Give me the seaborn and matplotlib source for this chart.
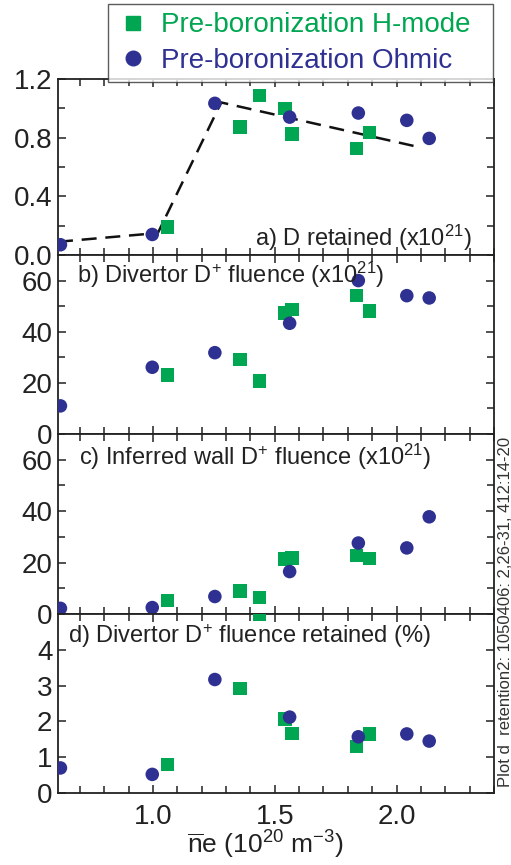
import matplotlib
matplotlib.use("Agg")
import matplotlib.pyplot as plt
from matplotlib.lines import Line2D
from matplotlib.ticker import MultipleLocator, FixedLocator
import seaborn as sns
import pandas as pd

# ---------------- data ----------------
hmode_x = [1.06, 1.357, 1.437, 1.541, 1.57, 1.836, 1.889]
hmode_a = [0.19, 0.873, 1.086, 1.00, 0.825, 0.727, 0.836]
hmode_b = [23.1, 29.1, 20.8, 47.3, 48.6, 54.2, 48.2]
hmode_c = [5.2, 9.0, 6.4, 21.3, 21.7, 22.7, 21.6]
hmode_d = [0.80, 2.92, 5.0, 2.06, 1.66, 1.30, 1.65]

ohmic_x = [0.62, 0.997, 1.254, 1.561, 1.843, 2.042, 2.134]
ohmic_a = [0.07, 0.14, 1.034, 0.94, 0.968, 0.918, 0.795]
ohmic_b = [11.0, 26.1, 31.8, 43.3, 60.0, 54.1, 53.2]
ohmic_c = [2.2, 2.5, 6.8, 16.5, 27.6, 25.7, 37.8]
ohmic_d = [0.70, 0.52, 3.17, 2.12, 1.57, 1.65, 1.45]

trend_x = [0.61, 1.02, 1.28, 2.08]
trend_y = [0.09, 0.15, 1.04, 0.74]

series_names = ["Pre-boronization H-mode", "Pre-boronization Ohmic"]
panel_labels = [
    "a) D retained (x10$^{21}$)",
    "b) Divertor D$^{+}$ fluence (x10$^{21}$)",
    "c) Inferred wall D$^{+}$ fluence (x10$^{21}$)",
    "d) Divertor D$^{+}$ fluence retained (%)",
]
x_label = r"$\overline{n}$e (10$^{20}$ m$^{-3}$)"
side_note = "Plot d  retention2: 1050406: 2,26-31, 412:14-20"

y_major_ticks = [[0.0, 0.4, 0.8, 1.2], [0, 20, 40, 60], [0, 20, 40, 60], [0, 1, 2, 3, 4]]
y_minor_ticks = [[0.2, 0.6, 1.0], [10, 30, 50, 70], [10, 30, 50, 70], [5]]
x_major_ticks = [1.0, 1.5, 2.0]

GREEN = "#00A651"
BLUE = "#2E3192"

# ---------------- style ----------------
sns.set_theme(style="ticks")
plt.rcParams["font.family"] = ["Liberation Sans", "DejaVu Sans"]
plt.rcParams["mathtext.default"] = "regular"
plt.rcParams["axes.linewidth"] = 1.3

df = pd.concat([
    pd.DataFrame({"x": hmode_x, "a": hmode_a, "b": hmode_b, "c": hmode_c,
                  "d": hmode_d, "series": series_names[0]}),
    pd.DataFrame({"x": ohmic_x, "a": ohmic_a, "b": ohmic_b, "c": ohmic_c,
                  "d": ohmic_d, "series": series_names[1]}),
], ignore_index=True)

fig = plt.figure(figsize=(5.11, 8.65), dpi=100)
W, H = 511.0, 865.0
left, right = 58 / W, 494 / W
edges = [79, 255, 434, 614, 793]
axes = []
for i in range(4):
    top, bot = edges[i], edges[i + 1]
    ax = fig.add_axes([left, 1 - bot / H, right - left, (bot - top) / H])
    axes.append(ax)

cols = ["a", "b", "c", "d"]
ylims = [(0, 1.2), (0, 70), (0, 70), (0, 5)]
palette = {series_names[0]: GREEN, series_names[1]: BLUE}
markers = {series_names[0]: "s", series_names[1]: "o"}

for i, ax in enumerate(axes):
    if i == 0:
        sns.lineplot(x=trend_x, y=trend_y, ax=ax, color="#111111", lw=1.8,
                     linestyle=(0, (6, 3.5)), zorder=2)
    sns.scatterplot(data=df, x="x", y=cols[i], hue="series", style="series",
                    palette=palette, markers=markers, s=95, linewidth=0,
                    ax=ax, legend=False, zorder=3)
    ax.set_xlim(0.61, 2.40)
    ax.set_ylim(*ylims[i])
    ax.xaxis.set_major_locator(FixedLocator(x_major_ticks))
    ax.xaxis.set_minor_locator(MultipleLocator(0.1))
    ax.yaxis.set_major_locator(FixedLocator(y_major_ticks[i]))
    ax.yaxis.set_minor_locator(FixedLocator(y_minor_ticks[i]))
    ax.tick_params(which="both", direction="in", top=True, right=True,
                   colors="#222222", width=1.1)
    ax.tick_params(which="major", length=6, labelsize=20, pad=4)
    ax.tick_params(which="minor", length=5)
    ax.tick_params(axis="x", which="major", pad=8)
    ax.set_xlabel("")
    ax.set_ylabel("")
    for sp in ax.spines.values():
        sp.set_color("#222222")
    if i < 3:
        ax.tick_params(axis="x", labelbottom=False)
    if i == 0:
        ax.yaxis.set_major_formatter(plt.FormatStrFormatter("%.1f"))
    else:
        ax.yaxis.set_major_formatter(plt.FormatStrFormatter("%d"))
    ax.xaxis.set_major_formatter(plt.FormatStrFormatter("%.1f"))

lab_kw = dict(fontsize=17, color="#222222")
axes[0].text(0.95, 0.05, panel_labels[0], transform=axes[0].transAxes,
             ha="right", va="baseline", **lab_kw)
axes[1].text(0.044, 0.844, panel_labels[1], transform=axes[1].transAxes,
             ha="left", va="baseline", **lab_kw)
axes[2].text(0.048, 0.828, panel_labels[2], transform=axes[2].transAxes,
             ha="left", va="baseline", **lab_kw)
axes[3].text(0.023, 0.838, panel_labels[3], transform=axes[3].transAxes,
             ha="left", va="baseline", **lab_kw)

fig.text(265 / W, 1 - 845 / H, x_label, ha="center", va="center",
         fontsize=19, color="#222222")

fig.text(505 / W, 1 - 612 / H, side_note, rotation=90, ha="center",
         va="center", fontsize=12, color="#333333")

handles = [
    Line2D([], [], marker="s", linestyle="none", color=GREEN, markersize=10),
    Line2D([], [], marker="o", linestyle="none", color=BLUE, markersize=10.5),
]
leg = fig.legend(handles, series_names, loc="upper left",
                 bbox_to_anchor=(108 / W, 1 - 79 / H, (493 - 108) / W, 75 / H),
                 mode="expand", fontsize=20, frameon=True, fancybox=False,
                 handletextpad=0.42, borderpad=0.3, labelspacing=0.34,
                 handlelength=1.2, borderaxespad=0)
leg.get_frame().set_edgecolor("#333333")
leg.get_frame().set_linewidth(1.0)
for t, c in zip(leg.get_texts(), [GREEN, BLUE]):
    t.set_color(c)

fig.savefig("out.png", dpi=100)
